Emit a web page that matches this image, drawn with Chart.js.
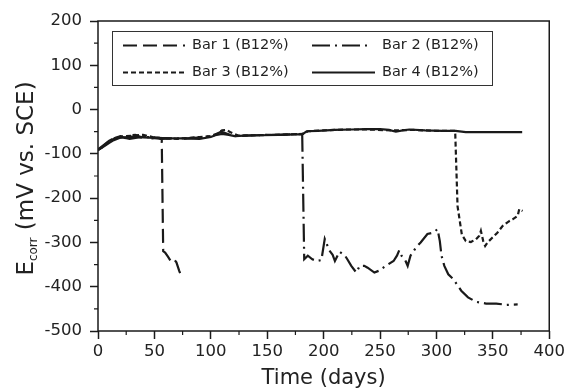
<!DOCTYPE html>
<html>
<head>
<meta charset="utf-8">
<script src="https://cdn.jsdelivr.net/npm/chart.js@4.4.1/dist/chart.umd.min.js"></script>
<style>
  html, body { margin: 0; padding: 0; background: #fff; }
</style>
</head>
<body>
<canvas id="c" width="568" height="392"></canvas>
<script>
// Ecorr vs time for four bars
const seriesNames = ['Bar 1 (B12%)', 'Bar 2 (B12%)', 'Bar 3 (B12%)', 'Bar 4 (B12%)'];

const bar1Days = [0, 4, 8, 12, 16, 20, 24, 28, 33, 38, 43, 48, 53, 56.5, 57.8, 59.5, 62, 64.5, 67.5, 69.5, 72, 74];
const bar1Vals = [-92, -84, -75, -68, -63, -60, -64, -58, -57, -62, -60, -65, -64, -67, -320, -323, -332, -342, -338, -345, -364, -378];

const bar2Days = [0, 5, 10, 15, 20, 28, 36, 45, 55, 65, 75, 85, 95, 103, 109, 114, 120, 130, 140, 150,
  160, 170, 181, 182.8, 186, 190, 194, 198, 201, 205, 208, 210, 214, 219, 221, 224.5, 229, 232, 236, 239,
  245, 249, 255, 262, 265, 267, 269, 272, 274.5, 277, 282, 286, 292, 297, 301, 303, 304.5, 307, 310.5, 315,
  319, 322, 328, 335, 344, 353, 362, 372];
const bar2Vals = [-90, -80, -70, -64, -62, -66, -63, -62, -64, -65, -66, -64, -62, -58, -50, -54, -60, -59, -58, -57,
  -57, -56, -55, -338, -330, -338, -342, -340, -292, -318, -328, -342, -321, -330, -338, -353, -368, -353, -353, -357,
  -368, -364, -353, -342, -330, -318, -330, -338, -353, -330, -311, -300, -281, -278, -270, -297, -330, -353, -372, -383,
  -398, -409, -424, -434, -438, -438, -441, -440];

const bar3Days = [0, 5, 10, 15, 20, 30, 40, 50, 60, 70, 80, 90, 100, 106, 110, 114, 118, 125, 140, 155,
  170, 182, 186, 200, 220, 240, 260, 280, 300, 316.6, 318.7, 322.5, 326, 330.5, 335, 338, 339.4, 341.5, 343.2, 345.3,
  349.7, 354, 358.6, 364.5, 367.5, 372, 373.4, 376.3];
const bar3Vals = [-91, -83, -72, -65, -61, -59, -57, -63, -65, -66, -64, -62, -60, -54, -47, -46, -52, -59, -58, -57,
  -56, -55, -49, -47, -45, -45, -47, -46, -48, -48, -218, -282, -297, -299, -293, -285, -274, -297, -308, -300,
  -289, -278, -263, -252, -248, -240, -225, -229];

const bar4Days = [0, 3, 6, 10, 14, 19, 24, 30, 40, 50, 57, 65, 75, 90, 100, 104, 110, 116, 121, 130,
  145, 160, 175, 181, 185, 195, 210, 225, 237, 250, 258, 264, 270, 276, 290, 305, 317, 326, 340, 355, 376];
const bar4Vals = [-90, -87, -82, -75, -69, -64, -63, -61, -63, -64, -66, -65, -65, -66, -62, -58, -55, -57, -60, -59,
  -58, -57, -56, -56, -49, -48, -46, -45, -44, -44, -46, -50, -47, -45, -47, -48, -48, -51, -51, -51, -51];

const xTicks = [0, 50, 100, 150, 200, 250, 300, 350, 400];
const yTicks = [-500, -400, -300, -200, -100, 0, 100, 200];

const INK = '#1a1a1a';
const FONT = '"DejaVu Sans", sans-serif';
const dashes = [[14, 6], [18, 5, 2, 5], [5, 3], []];

const pts = (days, vals) => days.map((d, i) => ({ x: d, y: vals[i] }));
const allSeries = [[bar1Days, bar1Vals], [bar2Days, bar2Vals], [bar3Days, bar3Vals], [bar4Days, bar4Vals]];

// box frame, minor ticks, y title with subscript, boxed legend
const decor = {
  id: 'decor',
  afterDraw(chart) {
    const { ctx, chartArea: a, scales: { x, y } } = chart;
    ctx.save();
    ctx.strokeStyle = INK;
    ctx.lineWidth = 1.5;
    ctx.strokeRect(a.left, a.top, a.right - a.left, a.bottom - a.top);

    ctx.lineWidth = 1.2;
    ctx.beginPath();
    for (let i = 0; i < yTicks.length - 1; i++) {
      const py = y.getPixelForValue((yTicks[i] + yTicks[i + 1]) / 2);
      ctx.moveTo(a.left - 4, py); ctx.lineTo(a.left, py);
    }
    for (let i = 0; i < xTicks.length - 1; i++) {
      const px = x.getPixelForValue((xTicks[i] + xTicks[i + 1]) / 2);
      ctx.moveTo(px, a.bottom); ctx.lineTo(px, a.bottom + 4);
    }
    ctx.stroke();

    // y title: E_corr (mV vs. SCE)
    ctx.fillStyle = '#222';
    ctx.translate(33, 178.5);
    ctx.rotate(-Math.PI / 2);
    ctx.textBaseline = 'alphabetic';
    const big = '23px ' + FONT, small = '12px ' + FONT;
    ctx.font = big;
    const wE = ctx.measureText('E').width;
    const wRest = ctx.measureText(' (mV vs. SCE)').width;
    ctx.font = small;
    const wSub = ctx.measureText('corr').width;
    let tx = -(wE + wSub + wRest) / 2;
    ctx.font = big; ctx.fillText('E', tx, 0); tx += wE;
    ctx.font = small; ctx.fillText('corr', tx, 4); tx += wSub;
    ctx.font = big; ctx.fillText(' (mV vs. SCE)', tx, 0);
    ctx.restore();

    // legend box
    ctx.save();
    ctx.fillStyle = '#fff';
    ctx.fillRect(112.5, 31.5, 380, 54);
    ctx.strokeStyle = '#333';
    ctx.lineWidth = 1;
    ctx.strokeRect(112.5, 31.5, 380, 54);
    const slots = [
      { x0: 123, x1: 185, tx: 192, y: 45.5 },
      { x0: 312, x1: 367, tx: 382, y: 45.5 },
      { x0: 123, x1: 185, tx: 192, y: 72.5 },
      { x0: 312, x1: 375, tx: 382, y: 72.5 }
    ];
    ctx.font = '14.5px ' + FONT;
    ctx.textBaseline = 'middle';
    ctx.fillStyle = '#222';
    slots.forEach((s, i) => {
      ctx.strokeStyle = INK;
      ctx.lineWidth = 2;
      ctx.setLineDash(dashes[i]);
      ctx.beginPath();
      ctx.moveTo(s.x0, s.y); ctx.lineTo(s.x1, s.y);
      ctx.stroke();
      ctx.setLineDash([]);
      ctx.fillText(seriesNames[i], s.tx, s.y);
    });
    ctx.restore();
  }
};

new Chart(document.getElementById('c').getContext('2d'), {
  type: 'line',
  data: {
    datasets: allSeries.map(([d, v], i) => ({
      label: seriesNames[i],
      data: pts(d, v),
      borderColor: INK,
      borderWidth: 2.2,
      borderDash: dashes[i],
      pointRadius: 0,
      tension: 0,
      fill: false
    }))
  },
  options: {
    responsive: false,
    animation: false,
    layout: { padding: { left: 0, right: 17, top: 21, bottom: 0 } },
    plugins: { legend: { display: false }, tooltip: { enabled: false } },
    scales: {
      x: {
        type: 'linear', min: 0, max: 400,
        afterBuildTicks: s => { s.ticks = xTicks.map(v => ({ value: v })); },
        afterFit: s => { s.height = 61; },
        grid: { drawOnChartArea: false, tickLength: 8, tickColor: INK, tickWidth: 1.5 },
        border: { display: false },
        ticks: { color: '#222', font: { family: FONT, size: 16.5 }, padding: 3, maxRotation: 0 },
        title: { display: true, text: 'Time (days)', color: '#222', font: { family: FONT, size: 21 }, padding: { top: 0, bottom: 1 } }
      },
      y: {
        type: 'linear', min: -500, max: 200,
        afterBuildTicks: s => { s.ticks = yTicks.map(v => ({ value: v })); },
        afterFit: s => { s.width = 98; },
        grid: { drawOnChartArea: false, tickLength: 8, tickColor: INK, tickWidth: 1.5 },
        border: { display: false },
        ticks: { color: '#222', font: { family: FONT, size: 16.5 }, padding: 8 }
      }
    }
  },
  plugins: [decor]
});
</script>
</body>
</html>
